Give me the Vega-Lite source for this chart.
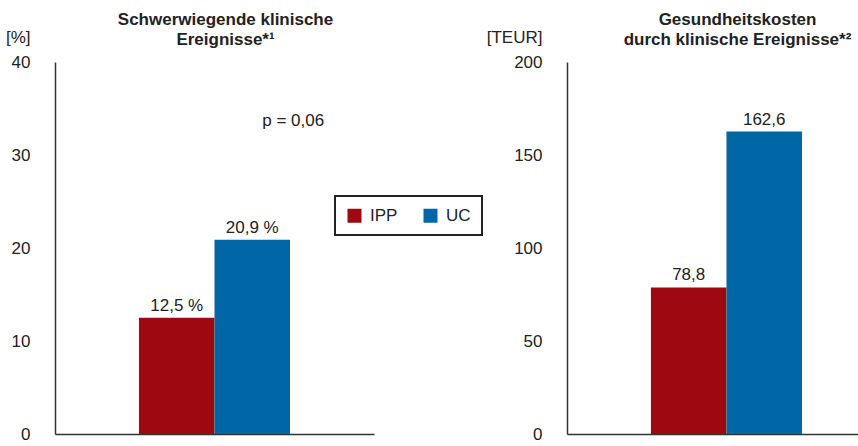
{
  "$schema": "https://vega.github.io/schema/vega-lite/v6.json",
  "padding": {"left": 5, "top": 11, "right": 0, "bottom": 0},
  "background": "white",
  "datasets": {
    "risk": [
      {"study": "risk", "group": "IPP", "value": 12.5, "label": "12,5 %"},
      {"study": "risk", "group": "UC", "value": 20.9, "label": "20,9 %"}
    ],
    "cost": [
      {"study": "cost", "group": "IPP", "value": 78.8, "label": "78,8"},
      {"study": "cost", "group": "UC", "value": 162.6, "label": "162,6"}
    ],
    "note": [
      {"study": "risk", "group": "UC", "note": "p = 0,06"}
    ]
  },
  "config": {
    "view": {"stroke": null},
    "font": "Liberation Sans, Arial, sans-serif",
    "axis": {"grid": false, "ticks": false, "domainColor": "#333333", "domainWidth": 1.5, "labelColor": "#222222", "labelFontSize": 17, "titleColor": "#222222", "titleFontSize": 17, "titleFontWeight": "normal"},
    "title": {"fontSize": 17, "fontWeight": "bold", "color": "#222222", "lineHeight": 20},
    "legend": {"strokeWidth": 2}
  },
  "bounds": "flush",
  "spacing": 193,
  "resolve": {"legend": {"color": "independent"}, "scale": {"color": "independent"}},
  "hconcat": [
    {
      "width": 319,
      "height": 372,
      "title": {"text": ["Schwerwiegende klinische", "Ereignisse*¹"], "anchor": "middle", "dx": 11, "offset": -21},
      "layer": [
        {
          "data": {"name": "risk"},
          "mark": {"type": "bar"},
          "encoding": {
            "x": {"field": "study", "type": "nominal", "scale": {"domain": ["risk"], "paddingInner": 0, "paddingOuter": 0.556, "align": 0.5}, "axis": {"labels": false, "title": null, "domain": true}},
            "xOffset": {"field": "group", "type": "nominal", "scale": {"domain": ["IPP", "UC"], "paddingInner": 0, "paddingOuter": 0}},
            "y": {"field": "value", "type": "quantitative", "scale": {"domain": [0, 40], "nice": false}, "axis": {"values": [0, 10, 20, 30, 40], "labelPadding": 25, "title": "[%]", "titleAngle": 0, "titleAlign": "right", "titleBaseline": "middle", "titleX": -25, "titleY": -25}},
            "color": {"field": "group", "type": "nominal", "scale": {"domain": ["IPP", "UC"], "range": ["#9E0810", "#0066A6"]},
              "legend": {"title": null, "orient": "none", "legendX": 280, "legendY": 134, "direction": "horizontal", "columns": 2, "symbolType": "square", "symbolSize": 196, "symbolStrokeWidth": 0, "symbolOpacity": 1, "labelFontSize": 17, "labelColor": "#222222", "labelOffset": 7, "columnPadding": 24, "padding": 11, "strokeColor": "#222222", "fillColor": "white"}}
          }
        },
        {
          "data": {"name": "risk"},
          "mark": {"type": "text", "baseline": "alphabetic", "dy": -7, "fontSize": 17, "fontWeight": "normal", "color": "#222222"},
          "encoding": {
            "x": {"field": "study", "type": "nominal"},
            "xOffset": {"field": "group", "type": "nominal"},
            "y": {"field": "value", "type": "quantitative"},
            "text": {"field": "label"}
          }
        },
        {
          "data": {"name": "note"},
          "mark": {"type": "text", "baseline": "alphabetic", "align": "left", "dx": 10, "fontSize": 17, "fontWeight": "normal", "color": "#222222"},
          "encoding": {
            "x": {"field": "study", "type": "nominal"},
            "xOffset": {"field": "group", "type": "nominal"},
            "y": {"datum": 33.1, "type": "quantitative"},
            "text": {"field": "note"}
          }
        }
      ]
    },
    {
      "width": 291,
      "height": 372,
      "title": {"text": ["Gesundheitskosten", "durch klinische Ereignisse*²"], "anchor": "middle", "dx": 25, "offset": -21},
      "data": {"name": "cost"},
      "encoding": {
        "x": {"field": "study", "type": "nominal", "scale": {"domain": ["cost"], "paddingInner": 0, "paddingOuter": 0.457, "align": 0.604}, "axis": {"labels": false, "title": null, "domain": true}},
        "xOffset": {"field": "group", "type": "nominal", "scale": {"domain": ["IPP", "UC"], "paddingInner": 0, "paddingOuter": 0}},
        "y": {"field": "value", "type": "quantitative", "scale": {"domain": [0, 200], "nice": false}, "axis": {"values": [0, 50, 100, 150, 200], "labelPadding": 25, "title": "[TEUR]", "titleAngle": 0, "titleAlign": "right", "titleBaseline": "middle", "titleX": -25, "titleY": -25}}
      },
      "layer": [
        {
          "mark": {"type": "bar"},
          "encoding": {
            "color": {"field": "group", "type": "nominal", "scale": {"domain": ["IPP", "UC"], "range": ["#9E0810", "#0066A6"]}, "legend": null}
          }
        },
        {
          "mark": {"type": "text", "baseline": "alphabetic", "dy": -7, "fontSize": 17, "fontWeight": "normal", "color": "#222222"},
          "encoding": {"text": {"field": "label"}}
        }
      ]
    }
  ]
}
